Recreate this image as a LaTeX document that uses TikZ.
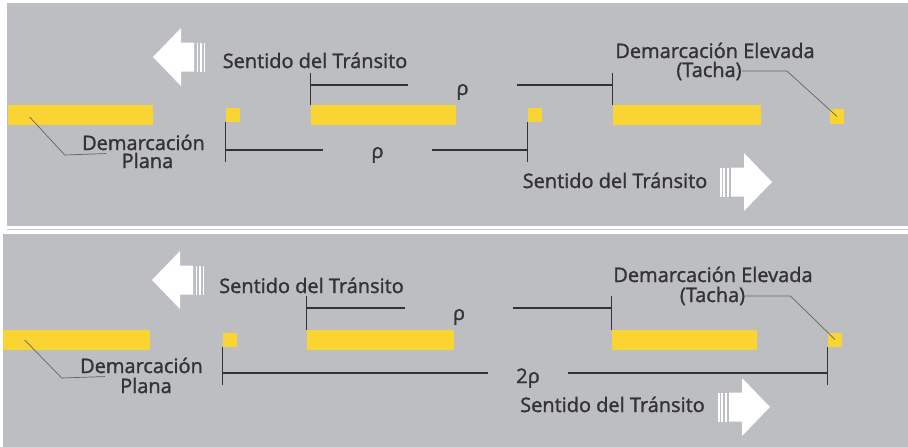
\documentclass[tikz,border=0pt]{standalone}
\usepackage{fontspec}
\setmainfont{Open Sans}[BoldFont={Open Sans}, BoldFeatures={FakeBold=1.4}]
\usetikzlibrary{calc}
\definecolor{pavimento}{HTML}{BDBEC2}
\definecolor{separa}{HTML}{C9C9CB}
\definecolor{demarca}{HTML}{FAD432}
\definecolor{textoosc}{HTML}{333333}
\definecolor{guiagris}{HTML}{646464}
\tikzstyle{barra} = [rectangle, fill=demarca, inner sep=0pt, minimum height=0.5cm]
\tikzstyle{tacha} = [rectangle, fill=demarca, inner sep=0pt, minimum size=0.35cm]
\tikzstyle{rotulo} = [inner sep=0pt, anchor=base, text=textoosc, font=\fontsize{14.2}{16}\selectfont\bfseries]
\tikzstyle{cota} = [line width=0.9pt, draw=textoosc]
\tikzstyle{guia} = [line width=0.5pt, draw=guiagris]
\tikzset{flecha/.pic={
    \fill[white] (0,0) -- (28,-29) -- (28,-14.5) -- (41,-14.5) -- (41,14.5) -- (28,14.5) -- (28,29) -- cycle;
    \foreach \s in {43.5,47,50.5} \fill[white] (\s,-14.5) rectangle ++(1.6,29);
}}

\begin{document}
\begin{tikzpicture}[x=0.025cm, y=-0.025cm]
    \useasboundingbox (0,0) rectangle (908,447);
    \fill[white] (0,0) rectangle (908,447);
    \fill[pavimento] (7,3) rectangle (908,226);
    \draw[separa, line width=1.4pt] (7,229.5) -- (908,229.5);
    \fill[pavimento] (3,234) rectangle (908,447);

    % panel superior
    \node[barra, minimum width=3.625cm] (barA1) at (80.5,115) {};
    \node[tacha] (tachaA1) at (233,115) {};
    \node[barra, minimum width=3.625cm] (barA2) at (383.5,115) {};
    \node[tacha] (tachaA2) at (534.5,115) {};
    \node[barra, minimum width=3.7cm] (barA3) at (687,115) {};
    \node[tacha] (tachaA3) at (837,116.5) {};

    \pic at (153,57) {flecha};
    \pic[xscale=-1] at (772,182) {flecha};

    \node[rotulo] (sentA1) at (315,68) {Sentido del Tránsito};
    \node[rotulo] (sentA2) at (615,188) {Sentido del Tránsito};
    \node[rotulo] (demA) at (143.5,150) {Demarcación};
    \node[rotulo] (planaA) at (147.5,168) {Plana};
    \node[rotulo] (elevA) at (715,58) {Demarcación Elevada};
    \node[rotulo] (tachaTxtA) at (709,77) {(Tacha)};

    \node[rotulo, minimum width=2.725cm] (rhoA1) at (462.5,95) {ρ};
    \node[rotulo, minimum width=2.725cm] (rhoA2) at (377.5,158) {ρ};
    \coordinate (cotaA1) at (462.5,85);
    \coordinate (cotaA2) at (377.5,150);

    \draw[cota] (barA2.north west) -- ++(0,-32);
    \draw[cota] (barA3.north west) -- ++(0,-32);
    \draw[cota] (barA2.west |- cotaA1) -- (rhoA1.west |- cotaA1);
    \draw[cota] (rhoA1.east |- cotaA1) -- (barA3.west |- cotaA1);
    \draw[cota] (tachaA1.south west) -- ++(0,40);
    \draw[cota] (tachaA2.south west) -- ++(0,40);
    \draw[cota] (tachaA1.west |- cotaA2) -- (rhoA2.west |- cotaA2);
    \draw[cota] (rhoA2.east |- cotaA2) -- (tachaA2.west |- cotaA2);

    \draw[guia] ($(barA1.west)+(22,2)$) -- ++(35,38) -- ($(planaA.north west)+(-15,1)$);
    \draw[guia] (tachaTxtA.east) -- ++(45,0) -- (tachaA3.center);

    % panel inferior
    \node[barra, minimum width=3.675cm] (barB1) at (76.5,340) {};
    \node[tacha] (tachaB1) at (229.5,340) {};
    \node[barra, minimum width=3.675cm] (barB2) at (380.5,340) {};
    \node[barra, minimum width=3.625cm] (barB3) at (684.5,340) {};
    \node[tacha] (tachaB2) at (835,339.5) {};

    \pic at (152,280) {flecha};
    \pic[xscale=-1] at (770,407) {flecha};

    \node[rotulo] (sentB1) at (311.5,293) {Sentido del Tránsito};
    \node[rotulo] (sentB2) at (612.5,412) {Sentido del Tránsito};
    \node[rotulo] (demB) at (141.5,373) {Demarcación};
    \node[rotulo] (planaB) at (146,393) {Plana};
    \node[rotulo] (elevB) at (713,282) {Demarcación Elevada};
    \node[rotulo] (tachaTxtB) at (712.5,302) {(Tacha)};

    \node[rotulo, minimum width=2.7cm] (rhoB1) at (459,320) {ρ};
    \node[rotulo, minimum width=2cm] (rhoB2) at (528,383) {2ρ};
    \coordinate (cotaB1) at (459,308);
    \coordinate (cotaB2) at (528,373);

    \draw[cota] (barB2.north west) -- ++(0,-34);
    \draw[cota] (barB3.north west) -- ++(0,-34);
    \draw[cota] (barB2.west |- cotaB1) -- (rhoB1.west |- cotaB1);
    \draw[cota] (rhoB1.east |- cotaB1) -- (barB3.west |- cotaB1);
    \draw[cota] (tachaB1.south west) -- ++(0,38);
    \draw[cota] (tachaB2.south west) -- ++(0,38);
    \draw[cota] (tachaB1.west |- cotaB2) -- (rhoB2.west |- cotaB2);
    \draw[cota] (rhoB2.east |- cotaB2) -- (tachaB2.west |- cotaB2);

    \draw[guia] ($(barB1.west)+(22,0)$) -- ++(37,38) -- ($(planaB.north west)+(-15,-1)$);
    \draw[guia] (tachaTxtB.east) -- ++(45,0) -- (tachaB2.center);
\end{tikzpicture}
\end{document}
